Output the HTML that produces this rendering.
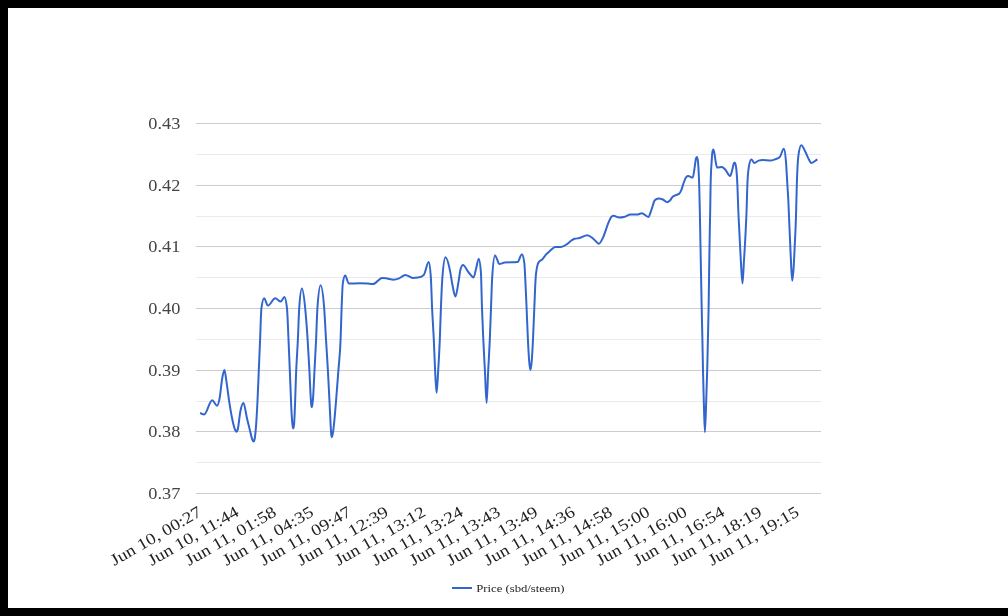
<!DOCTYPE html>
<html><head><meta charset="utf-8"><title>Price chart</title>
<style>
html,body{margin:0;padding:0;background:#000;}
body{width:1008px;height:616px;overflow:hidden;}
svg{display:block;position:absolute;left:0;top:0;will-change:transform;}
text{font-family:"Liberation Serif",serif;}
</style></head><body>
<svg width="1008" height="616" viewBox="0 0 1008 616">
<rect x="0" y="0" width="1008" height="616" fill="#000"/>
<rect x="8" y="8" width="1000" height="600" fill="#fff"/>
<g>
<rect x="196" y="154" width="625" height="1" fill="#ebebeb"/>
<rect x="196" y="216" width="625" height="1" fill="#ebebeb"/>
<rect x="196" y="277" width="625" height="1" fill="#ebebeb"/>
<rect x="196" y="339" width="625" height="1" fill="#ebebeb"/>
<rect x="196" y="401" width="625" height="1" fill="#ebebeb"/>
<rect x="196" y="462" width="625" height="1" fill="#ebebeb"/>
<rect x="196" y="123" width="625" height="1" fill="#cccccc"/>
<rect x="196" y="185" width="625" height="1" fill="#cccccc"/>
<rect x="196" y="246" width="625" height="1" fill="#cccccc"/>
<rect x="196" y="308" width="625" height="1" fill="#cccccc"/>
<rect x="196" y="370" width="625" height="1" fill="#cccccc"/>
<rect x="196" y="431" width="625" height="1" fill="#cccccc"/>
<rect x="196" y="493" width="625" height="1" fill="#cccccc"/>
</g>
<path d="M200.10,413.00C201.43,413.53 202.77,414.60 204.10,414.60C206.80,414.60 209.50,400.30 212.20,400.30C213.83,400.30 215.47,405.70 217.10,405.70C218.03,405.70 218.97,402.01 219.90,396.50C220.63,392.17 221.37,383.38 222.10,379.00C222.87,374.42 223.63,370.00 224.40,370.00C225.10,370.00 225.80,377.42 226.50,381.90C227.37,387.45 228.23,395.18 229.10,400.90C230.43,409.69 231.77,417.42 233.10,422.90C233.80,425.78 234.50,428.50 235.20,430.00C235.63,430.93 236.07,431.80 236.50,431.80C236.90,431.80 237.30,430.95 237.70,429.60C238.60,426.57 239.50,415.57 240.40,411.20C241.43,406.18 242.47,403.10 243.50,403.10C244.67,403.10 245.83,413.60 247.00,418.50C247.97,422.56 248.93,426.36 249.90,430.20C250.70,433.38 251.50,437.70 252.30,439.60C252.73,440.63 253.17,441.60 253.60,441.60C253.93,441.60 254.27,440.80 254.60,439.20C254.97,437.44 255.33,434.33 255.70,430.20C256.30,423.45 256.90,413.44 257.50,400.90C257.80,394.63 258.10,387.04 258.40,380.00C258.97,366.70 259.53,352.81 260.10,339.30C260.53,328.97 260.97,311.67 261.40,308.40C262.30,301.60 263.20,298.20 264.10,298.20C265.37,298.20 266.63,305.60 267.90,305.60C270.33,305.60 272.77,298.30 275.20,298.30C277.07,298.30 278.93,301.60 280.80,301.60C282.00,301.60 283.20,297.00 284.40,297.00C285.27,297.00 286.13,300.80 287.00,308.40C287.50,312.78 288.00,328.17 288.50,339.30C288.93,348.94 289.37,359.85 289.80,370.10C290.43,385.08 291.07,404.88 291.70,414.90C291.98,419.38 292.27,423.16 292.55,425.40C292.80,427.38 293.05,428.40 293.30,428.40C293.53,428.40 293.77,427.33 294.00,425.20C294.20,423.37 294.40,418.91 294.60,414.90C295.13,404.21 295.67,382.97 296.20,370.60C296.77,357.46 297.33,351.45 297.90,339.30C298.33,330.01 298.77,314.76 299.20,308.40C300.10,295.20 301.00,288.60 301.90,288.60C303.00,288.60 304.10,297.42 305.20,308.40C306.00,316.38 306.80,326.99 307.60,339.30C308.20,348.53 308.80,359.04 309.40,370.40C309.87,379.23 310.33,391.78 310.80,398.70C310.95,400.93 311.10,403.24 311.25,404.60C311.43,406.27 311.62,407.10 311.80,407.10C312.00,407.10 312.20,405.80 312.40,404.40C312.60,403.00 312.80,401.14 313.00,398.70C313.50,392.61 314.00,379.97 314.50,370.40C315.03,360.19 315.57,350.94 316.10,339.30C316.53,329.84 316.97,314.68 317.40,308.40C318.47,292.93 319.53,285.20 320.60,285.20C321.80,285.20 323.00,292.93 324.20,308.40C324.80,316.13 325.40,329.23 326.00,339.30C326.63,349.93 327.27,358.96 327.90,370.40C328.43,380.04 328.97,390.98 329.50,401.60C329.93,410.22 330.37,420.85 330.80,427.90C330.95,430.34 331.10,433.40 331.25,434.60C331.47,436.33 331.68,437.20 331.90,437.20C332.15,437.20 332.40,435.68 332.65,434.40C332.97,432.78 333.28,430.44 333.60,427.90C334.40,421.49 335.20,411.18 336.00,401.60C336.80,392.02 337.60,381.27 338.40,370.40C339.13,360.43 339.87,358.17 340.60,339.30C340.93,330.72 341.27,317.06 341.60,308.30C342.00,297.79 342.40,286.30 342.80,283.60C343.60,278.20 344.40,275.50 345.20,275.50C346.40,275.50 347.60,283.60 348.80,283.60C352.33,283.60 355.87,283.20 359.40,283.20C362.10,283.20 364.80,283.40 367.50,283.60C369.37,283.74 371.23,284.10 373.10,284.10C376.10,284.10 379.10,277.90 382.10,277.90C383.70,277.90 385.30,278.16 386.90,278.40C389.07,278.73 391.23,279.80 393.40,279.80C395.30,279.80 397.20,279.14 399.10,278.40C401.17,277.59 403.23,275.00 405.30,275.00C407.83,275.00 410.37,277.90 412.90,277.90C414.53,277.90 416.17,277.80 417.80,277.60C419.80,277.36 421.80,276.70 423.80,274.90C425.42,273.44 427.03,262.00 428.65,262.00C429.38,262.00 430.12,267.13 430.85,277.40C431.27,283.23 431.68,299.03 432.10,308.20C432.67,320.67 433.23,327.35 433.80,339.50C434.23,348.79 434.67,361.88 435.10,370.40C435.60,380.23 436.10,392.80 436.60,392.80C437.13,392.80 437.67,379.28 438.20,370.40C438.73,361.52 439.27,352.69 439.80,339.50C440.17,330.43 440.53,317.40 440.90,308.20C441.40,295.65 441.90,283.88 442.40,277.40C443.43,264.00 444.47,257.30 445.50,257.30C447.00,257.30 448.50,263.39 450.00,270.60C450.83,274.61 451.67,281.07 452.50,285.20C453.47,289.99 454.43,296.60 455.40,296.60C456.43,296.60 457.47,287.66 458.50,281.90C459.20,278.00 459.90,271.39 460.60,269.00C461.40,266.27 462.20,264.90 463.00,264.90C464.90,264.90 466.80,270.31 468.70,272.50C470.33,274.39 471.97,277.40 473.60,277.40C474.40,277.40 475.20,271.87 476.00,269.00C476.93,265.66 477.87,258.70 478.80,258.70C479.50,258.70 480.20,263.20 480.90,272.20C481.27,276.91 481.63,297.65 482.00,308.20C482.43,320.66 482.87,329.99 483.30,339.50C483.83,351.20 484.37,360.14 484.90,370.40C485.47,381.31 486.03,403.00 486.60,403.00C487.13,403.00 487.67,380.98 488.20,370.40C488.73,359.82 489.27,351.86 489.80,339.50C490.20,330.23 490.60,318.55 491.00,308.20C491.40,297.85 491.80,283.63 492.20,277.40C493.13,262.87 494.07,255.60 495.00,255.60C495.70,255.60 496.40,257.74 497.10,259.20C497.77,260.59 498.43,264.10 499.10,264.10C500.93,264.10 502.77,262.77 504.60,262.60C508.93,262.20 513.27,262.40 517.60,262.00C519.03,261.87 520.47,254.20 521.90,254.20C522.73,254.20 523.57,257.33 524.40,263.60C524.67,265.61 524.93,272.34 525.20,277.40C525.67,286.26 526.13,297.49 526.60,308.20C527.03,318.15 527.47,330.33 527.90,339.20C528.33,348.07 528.77,356.25 529.20,361.40C529.60,366.15 530.00,369.90 530.40,369.90C530.83,369.90 531.27,366.52 531.70,361.40C532.13,356.28 532.57,348.07 533.00,339.20C533.43,330.33 533.87,318.15 534.30,308.20C534.77,297.49 535.23,283.47 535.70,277.40C536.37,268.73 537.03,266.88 537.70,264.40C538.13,262.79 538.57,262.55 539.00,261.90C540.07,260.30 541.13,260.55 542.20,259.50C543.57,258.15 544.93,255.70 546.30,254.20C547.63,252.74 548.97,251.71 550.30,250.60C551.93,249.24 553.57,246.90 555.20,246.90C557.10,246.90 559.00,247.00 560.90,247.00C562.80,247.00 564.70,245.63 566.60,244.40C568.20,243.36 569.80,241.55 571.40,240.50C572.50,239.78 573.60,238.97 574.70,238.70C576.30,238.30 577.90,238.45 579.50,238.10C582.07,237.53 584.63,235.20 587.20,235.20C588.93,235.20 590.67,236.64 592.40,238.00C593.53,238.89 594.67,240.18 595.80,241.20C596.77,242.07 597.73,243.70 598.70,243.70C600.37,243.70 602.03,239.76 603.70,236.00C605.03,232.99 606.37,228.02 607.70,224.70C608.80,221.96 609.90,218.88 611.00,217.40C611.80,216.33 612.60,215.70 613.40,215.70C615.30,215.70 617.20,217.40 619.10,217.40C620.73,217.40 622.37,217.23 624.00,216.90C626.17,216.46 628.33,214.60 630.50,214.60C632.63,214.60 634.77,214.60 636.90,214.60C638.53,214.60 640.17,213.30 641.80,213.30C643.97,213.30 646.13,216.90 648.30,216.90C649.40,216.90 650.50,212.12 651.60,209.30C652.67,206.57 653.73,201.43 654.80,200.30C656.00,199.03 657.20,198.40 658.40,198.40C659.90,198.40 661.40,198.84 662.90,199.50C664.37,200.15 665.83,202.30 667.30,202.30C668.20,202.30 669.10,201.32 670.00,200.40C670.90,199.48 671.80,197.67 672.70,196.80C673.77,195.77 674.83,195.59 675.90,195.10C676.93,194.63 677.97,194.70 679.00,193.90C679.80,193.28 680.60,191.70 681.40,189.80C682.20,187.90 683.00,184.62 683.80,182.50C684.60,180.38 685.40,177.98 686.20,177.10C686.87,176.37 687.53,176.00 688.20,176.00C689.70,176.00 691.20,177.60 692.70,177.60C693.37,177.60 694.03,171.43 694.70,167.10C695.07,164.72 695.43,160.81 695.80,159.20C696.13,157.73 696.47,157.00 696.80,157.00C697.10,157.00 697.40,157.87 697.70,159.60C697.93,160.95 698.17,163.29 698.40,167.10C698.67,171.45 698.93,176.43 699.20,185.30C699.40,191.95 699.60,200.75 699.80,210.00C700.03,220.79 700.27,234.40 700.50,246.50C700.90,267.25 701.30,289.15 701.70,308.20C701.93,319.31 702.17,328.74 702.40,340.00C702.60,349.65 702.80,361.29 703.00,370.40C703.27,382.55 703.53,392.27 703.80,401.40C704.17,413.95 704.53,432.20 704.90,432.20C705.33,432.20 705.77,413.46 706.20,401.40C706.53,392.13 706.87,383.17 707.20,370.40C707.43,361.46 707.67,350.37 707.90,340.00C708.13,329.63 708.37,321.16 708.60,308.20C708.90,291.54 709.20,264.30 709.50,246.50C709.73,232.66 709.97,223.59 710.20,210.00C710.33,202.23 710.47,191.29 710.60,185.30C710.97,168.83 711.33,166.49 711.70,160.60C711.93,156.85 712.17,153.60 712.40,152.20C712.70,150.40 713.00,149.50 713.30,149.50C713.63,149.50 713.97,151.03 714.30,152.60C714.70,154.49 715.10,158.33 715.50,160.60C716.03,163.63 716.57,167.60 717.10,167.60C718.70,167.60 720.30,167.10 721.90,167.10C723.00,167.10 724.10,168.43 725.20,169.50C726.83,171.08 728.47,176.00 730.10,176.00C730.90,176.00 731.70,171.71 732.50,168.70C732.87,167.32 733.23,165.24 733.60,164.20C733.93,163.25 734.27,162.50 734.60,162.50C734.93,162.50 735.27,163.20 735.60,164.60C735.93,166.00 736.27,167.72 736.60,171.90C736.87,175.25 737.13,179.49 737.40,185.30C737.70,191.83 738.00,202.68 738.30,210.00C738.70,219.76 739.10,226.39 739.50,234.40C739.97,243.74 740.43,254.07 740.90,261.90C741.43,270.85 741.97,283.50 742.50,283.50C742.97,283.50 743.43,269.48 743.90,261.90C744.43,253.23 744.97,245.15 745.50,234.40C745.87,227.01 746.23,220.48 746.60,210.00C746.85,202.86 747.10,191.58 747.35,185.30C747.83,173.17 748.32,170.08 748.80,167.10C749.63,161.97 750.47,159.40 751.30,159.40C752.37,159.40 753.43,163.00 754.50,163.00C755.87,163.00 757.23,160.94 758.60,160.60C759.93,160.27 761.27,160.10 762.60,160.10C765.23,160.10 767.87,160.60 770.50,160.60C771.97,160.60 773.43,159.95 774.90,159.40C776.53,158.79 778.17,158.60 779.80,157.00C781.13,155.69 782.47,148.70 783.80,148.70C784.50,148.70 785.20,152.67 785.90,160.60C786.40,166.27 786.90,177.11 787.40,185.30C787.70,190.21 788.00,193.95 788.30,200.00C788.53,204.70 788.77,210.78 789.00,216.20C789.43,226.27 789.87,236.90 790.30,246.60C790.63,254.06 790.97,262.52 791.30,268.20C791.63,273.88 791.97,280.70 792.30,280.70C792.73,280.70 793.17,274.72 793.60,268.20C793.97,262.68 794.33,254.43 794.70,246.60C795.13,237.35 795.57,230.42 796.00,216.20C796.27,207.45 796.53,193.81 796.80,185.30C797.33,168.28 797.87,159.70 798.40,155.70C799.33,148.70 800.27,145.20 801.20,145.20C802.70,145.20 804.20,149.47 805.70,152.50C806.53,154.18 807.37,156.49 808.20,158.10C809.27,160.16 810.33,163.00 811.40,163.00C813.40,163.00 815.40,160.53 817.40,159.30" fill="none" stroke="#3366cc" stroke-width="2" stroke-linejoin="round"/>
<g fill="#444444" font-size="16.3" text-anchor="end" opacity="0.999">
<text x="180.3" y="128.5" textLength="32" lengthAdjust="spacingAndGlyphs">0.43</text>
<text x="180.3" y="190.5" textLength="32" lengthAdjust="spacingAndGlyphs">0.42</text>
<text x="180.3" y="251.5" textLength="32" lengthAdjust="spacingAndGlyphs">0.41</text>
<text x="180.3" y="313.5" textLength="32" lengthAdjust="spacingAndGlyphs">0.40</text>
<text x="180.3" y="375.5" textLength="32" lengthAdjust="spacingAndGlyphs">0.39</text>
<text x="180.3" y="436.5" textLength="32" lengthAdjust="spacingAndGlyphs">0.38</text>
<text x="180.3" y="498.5" textLength="32" lengthAdjust="spacingAndGlyphs">0.37</text>
</g>
<g fill="#222222" font-size="16.3" text-anchor="end" opacity="0.999">
<text x="202.70" y="515.1" transform="rotate(-30 202.70 515.1)" textLength="102" lengthAdjust="spacingAndGlyphs">Jun 10, 00:27</text>
<text x="240.05" y="515.1" transform="rotate(-30 240.05 515.1)" textLength="102" lengthAdjust="spacingAndGlyphs">Jun 10, 11:44</text>
<text x="277.40" y="515.1" transform="rotate(-30 277.40 515.1)" textLength="102" lengthAdjust="spacingAndGlyphs">Jun 11, 01:58</text>
<text x="314.75" y="515.1" transform="rotate(-30 314.75 515.1)" textLength="102" lengthAdjust="spacingAndGlyphs">Jun 11, 04:35</text>
<text x="352.10" y="515.1" transform="rotate(-30 352.10 515.1)" textLength="102" lengthAdjust="spacingAndGlyphs">Jun 11, 09:47</text>
<text x="389.45" y="515.1" transform="rotate(-30 389.45 515.1)" textLength="102" lengthAdjust="spacingAndGlyphs">Jun 11, 12:39</text>
<text x="426.80" y="515.1" transform="rotate(-30 426.80 515.1)" textLength="102" lengthAdjust="spacingAndGlyphs">Jun 11, 13:12</text>
<text x="464.15" y="515.1" transform="rotate(-30 464.15 515.1)" textLength="102" lengthAdjust="spacingAndGlyphs">Jun 11, 13:24</text>
<text x="501.50" y="515.1" transform="rotate(-30 501.50 515.1)" textLength="102" lengthAdjust="spacingAndGlyphs">Jun 11, 13:43</text>
<text x="538.85" y="515.1" transform="rotate(-30 538.85 515.1)" textLength="102" lengthAdjust="spacingAndGlyphs">Jun 11, 13:49</text>
<text x="576.20" y="515.1" transform="rotate(-30 576.20 515.1)" textLength="102" lengthAdjust="spacingAndGlyphs">Jun 11, 14:36</text>
<text x="613.55" y="515.1" transform="rotate(-30 613.55 515.1)" textLength="102" lengthAdjust="spacingAndGlyphs">Jun 11, 14:58</text>
<text x="650.90" y="515.1" transform="rotate(-30 650.90 515.1)" textLength="102" lengthAdjust="spacingAndGlyphs">Jun 11, 15:00</text>
<text x="688.25" y="515.1" transform="rotate(-30 688.25 515.1)" textLength="102" lengthAdjust="spacingAndGlyphs">Jun 11, 16:00</text>
<text x="725.60" y="515.1" transform="rotate(-30 725.60 515.1)" textLength="102" lengthAdjust="spacingAndGlyphs">Jun 11, 16:54</text>
<text x="762.95" y="515.1" transform="rotate(-30 762.95 515.1)" textLength="102" lengthAdjust="spacingAndGlyphs">Jun 11, 18:19</text>
<text x="800.30" y="515.1" transform="rotate(-30 800.30 515.1)" textLength="102" lengthAdjust="spacingAndGlyphs">Jun 11, 19:15</text>
</g>
<rect x="452" y="587" width="20" height="2" fill="#3366cc"/>
<text x="476.3" y="591.7" font-size="9.8" fill="#222222" textLength="88.3" lengthAdjust="spacingAndGlyphs">Price (sbd/steem)</text>
</svg>
</body></html>
